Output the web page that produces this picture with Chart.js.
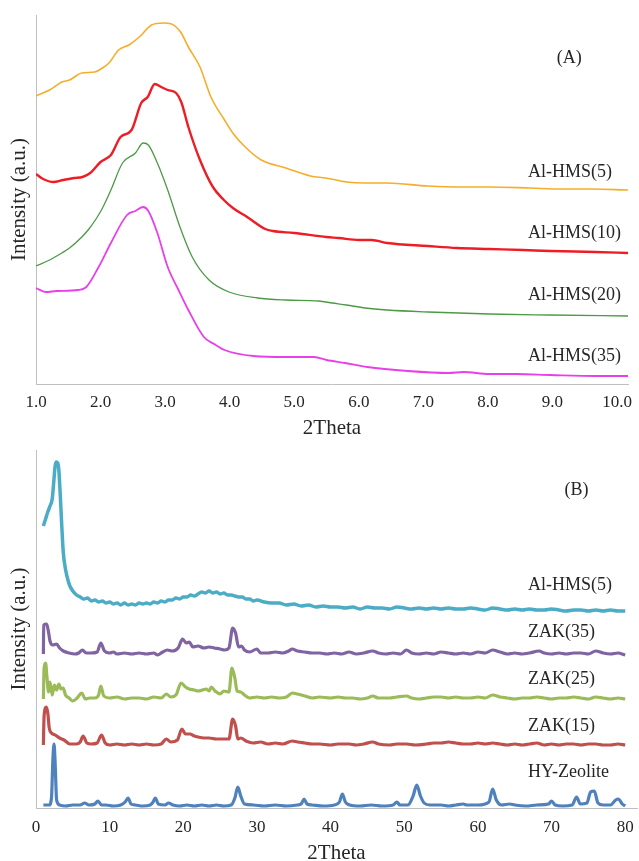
<!DOCTYPE html>
<html>
<head>
<meta charset="utf-8">
<script src="https://cdn.jsdelivr.net/npm/chart.js@4.4.0/dist/chart.umd.min.js"></script>
<style>
  html, body { margin: 0; padding: 0; background: #fff; overflow: hidden; }
  .panel { position: absolute; left: 0; width: 639px; }
  #panelA { top: 0; height: 442px; }
  #panelB { top: 442px; height: 430px; }
</style>
</head>
<body>
<div class="panel" id="panelA"><canvas id="chartA"></canvas></div>
<div class="panel" id="panelB"><canvas id="chartB"></canvas></div>
<script>
// (A) low angle patterns, [2theta, intensity]
var hms5A = [[1.0,288],[1.21,294],[1.40,302],[1.52,304],[1.71,311],[1.91,312],[2.03,316],[2.13,321],[2.28,334],[2.44,339],[2.60,347],[2.79,359],[2.97,361],[3.10,360],[3.17,357],[3.25,351],[3.36,337],[3.54,317],[3.71,287],[3.92,264],[4.06,250],[4.24,237],[4.49,224],[4.87,216],[5.25,208],[5.49,206],[5.81,202],[6.09,201],[6.44,201],[7.07,198],[7.62,197],[8.02,197],[8.65,196],[9.14,195],[9.60,195],[10.17,194]];
var hms10A = [[1.0,210],[1.11,205],[1.27,202],[1.42,204],[1.59,206],[1.72,207],[1.84,211],[2.0,222],[2.16,229],[2.31,247],[2.48,254],[2.63,281],[2.73,287],[2.84,300],[2.94,297],[3.04,294],[3.17,291],[3.25,282],[3.36,257],[3.54,224],[3.74,197],[3.91,184],[4.05,176],[4.27,167],[4.55,155],[4.67,153],[5.0,151],[5.5,147],[5.69,146],[6.0,144],[6.2,144],[6.44,141],[7.07,138],[7.52,136],[8.02,135],[8.54,134],[8.97,133],[9.66,132],[10.17,131]];
var hms20A = [[1.0,118],[1.21,124],[1.40,131],[1.52,136],[1.71,147],[1.82,155],[1.94,166],[2.03,176],[2.16,194],[2.34,221],[2.54,231],[2.66,241],[2.74,239],[2.88,221],[3.04,194],[3.23,157],[3.42,127],[3.68,104],[3.99,92],[4.43,86],[4.87,84],[5.38,83],[5.59,81],[5.81,79],[6.10,76],[6.44,74],[7.07,72],[8.02,70],[8.97,69],[10.17,68]];
var hms35A = [[1.0,96],[1.15,92],[1.32,93],[1.65,94],[1.78,97],[1.97,117],[2.16,141],[2.41,169],[2.54,173],[2.66,177],[2.74,173],[2.88,151],[3.04,117],[3.20,95],[3.36,74],[3.60,47],[3.76,40],[3.92,34],[4.37,28],[4.87,27],[5.31,27],[5.50,24],[5.79,21],[6.13,17],[6.76,13],[7.39,11],[7.62,12],[8.02,10],[8.44,10],[8.97,9],[9.66,8],[10.17,8]];
var namesA = ['Al-HMS(5)', 'Al-HMS(10)', 'Al-HMS(20)', 'Al-HMS(35)'];
var ticksA = [1, 2, 3, 4, 5, 6, 7, 8, 9, 10];

// (B) wide angle patterns
var hms5B = [[1.0,282],[1.3,289],[1.6,296],[1.9,302],[2.2,309],[2.4,325],[2.6,342],[2.75,346],[2.95,345],[3.1,338],[3.3,312],[3.5,282],[3.7,256],[4.0,239],[4.3,229],[4.6,222],[5.0,217],[5.5,213],[6.0,211],[6.5,209],[7,210],[7.5,207],[8,208],[8.5,206],[9,207],[9.5,205],[10,206],[10.5,204],[11,205],[11.5,203],[12,205],[12.5,203],[13,204],[13.5,203],[14,205],[14.5,204],[15,205],[15.5,204],[16,206],[16.5,205],[17,207],[17.5,206],[18,208],[18.5,208],[19,210],[19.5,209],[20,211],[20.5,211],[21,213],[21.5,212],[22,214],[22.5,216],[23,215],[23.5,217],[24,215],[24.5,216],[25,214],[25.5,215],[26,213],[26.5,213],[27,212],[27.5,211],[28,211],[28.5,209],[29,209],[29.5,207],[30,208],[31,206],[32,205],[33,205],[34,203],[35,204],[36,202],[37,203],[38,201],[39,202],[40,201],[41,201],[42,200],[43,201],[44,199],[45,201],[46,200],[47,200],[48,199],[49,201],[50,200],[51,199],[52,200],[53,199],[54,200],[55,199],[56,200],[57,199],[58,199],[59,200],[60,199],[61,198],[62,200],[63,199],[64,198],[65,199],[66,198],[67,199],[68,198],[69,198],[70,199],[71,198],[72,197],[73,198],[74,198],[75,197],[76,198],[77,197],[78,198],[79,197],[80,197]];
var zak35B = [[1.0,154],[1.05,183],[1.45,184],[1.7,176],[1.9,167],[2.3,163],[2.8,164],[3.2,160],[3.7,157],[4.5,155],[5.3,154],[5.8,155],[6.3,158],[6.8,155],[7.5,155],[8.3,156],[8.8,165],[9.3,157],[10,155],[10.5,156],[11,154],[12,155],[13,154],[14,155],[15,154],[16,155],[16.5,153],[17.2,156],[17.8,158],[18.5,157],[19.3,160],[19.9,169],[20.4,165],[20.8,166],[21.3,161],[22,162],[22.8,160],[23.5,161],[24.2,160],[25,159],[25.6,158],[26.2,160],[26.7,180],[27.1,175],[27.5,161],[27.9,162],[28.3,158],[29,156],[30,159],[30.5,155],[31.5,155],[32.5,156],[33.5,155],[34.3,157],[34.8,159],[35.5,157],[36.5,156],[37.5,155],[38.5,155],[39.5,154],[40.5,155],[41.5,154],[42.5,156],[43.5,154],[44.5,155],[45.7,157],[46.5,155],[47.5,154],[48.5,155],[49.5,154],[50.3,158],[51,155],[52,154],[53,155],[54,154],[55,156],[56,155],[57,154],[58,155],[59,154],[60,156],[61,155],[62,158],[63,156],[64,154],[65,155],[66,154],[67,155],[68.3,157],[69,155],[70,154],[71,155],[72,154],[73,155],[74,155],[75,154],[76,157],[77,155],[78,154],[79,155],[80,153]];
var zak25B = [[1.0,109],[1.1,140],[1.3,145],[1.5,130],[1.7,116],[1.9,126],[2.2,113],[2.5,123],[2.8,118],[3.1,124],[3.4,119],[3.7,120],[4.0,113],[4.5,110],[5.0,107],[5.6,110],[6.2,115],[6.7,109],[7.3,110],[8.0,110],[8.5,113],[8.8,122],[9.2,112],[10,110],[11,111],[12,109],[13,110],[14,110],[15,109],[16,111],[17,110],[17.7,114],[18.3,111],[19,113],[19.7,125],[20.3,121],[20.8,119],[21.5,118],[22,117],[22.6,118],[23.1,119],[23.5,117],[23.8,121],[24.3,117],[25,114],[25.5,117],[26.2,116],[26.6,140],[27.0,130],[27.3,117],[27.8,116],[28.3,113],[29,110],[30,111],[31,110],[32,111],[33,110],[34,111],[34.8,115],[35.5,114],[36.5,112],[37.5,110],[38.5,111],[40,110],[41,111],[42,110],[43,110],[44,109],[45,110],[45.7,112],[46.5,110],[48,110],[49,111],[50.3,112],[51,110],[52,109],[53,110],[54,111],[55,111],[56,110],[57,111],[58,110],[59,110],[60,111],[61,110],[62,113],[63,111],[64,110],[65,109],[66,110],[67,110],[68,111],[69,110],[70,109],[71,110],[72,110],[73,111],[74,110],[75,109],[76,111],[77,110],[78,109],[79,110],[80,109]];
var zak15B = [[1.0,63],[1.1,92],[1.4,101],[1.6,95],[1.8,80],[2.1,75],[2.6,73],[3.2,70],[3.8,68],[4.6,64],[5.5,64],[6.0,66],[6.4,72],[6.9,65],[7.5,64],[8.3,65],[8.9,73],[9.4,65],[10,63],[11,64],[12,63],[13,64],[14,63],[15,64],[16,63],[17,64],[17.7,69],[18.3,66],[19.2,68],[19.8,79],[20.3,74],[20.9,74],[21.5,72],[22,71],[22.8,70],[23.5,70],[24.5,69],[25.5,69],[26.2,69],[26.7,89],[27.1,82],[27.4,69],[27.8,70],[28.5,67],[29.5,65],[30.5,66],[31.5,64],[32.5,65],[33.5,64],[34.8,67],[35.5,66],[36.5,65],[37.5,64],[38.5,64],[40,63],[41,64],[42.5,64],[43.5,63],[44.5,64],[45.7,66],[46.5,64],[48,63],[49,64],[50.3,64],[51.5,63],[53,64],[54,65],[55,65],[56,66],[57,65],[58,64],[59,64],[60,65],[61,64],[62,65],[63,64],[64,63],[65,64],[66,63],[67,64],[68,65],[69,63],[70,64],[71,63],[72,64],[73,64],[74,63],[75,64],[76,64],[77,63],[78,63],[79,64],[80,63]];
var hyB = [[1.0,3],[1.8,3],[2.1,10],[2.3,50],[2.45,64],[2.6,45],[2.8,8],[3.2,3],[4,2],[5,3],[6.0,3],[6.6,5],[7.2,3],[8.0,4],[8.4,7],[8.9,3],[9.5,3],[10.5,2],[11.5,3],[12.1,6],[12.5,10],[12.9,4],[13.5,3],[14.5,2],[15.5,3],[15.9,6],[16.2,10],[16.6,4],[17.5,3],[18,5],[18.6,3],[19.5,2],[20.5,3],[21.5,2],[22.5,3],[23.5,2],[24.5,3],[25.5,2],[26.5,3],[27.0,10],[27.4,21],[27.8,12],[28.3,4],[29.5,3],[31,2],[32.5,3],[34,2],[35.5,3],[36.0,4],[36.4,9],[36.8,4],[37.5,3],[39,2],[40.5,3],[41.2,6],[41.6,14],[42.0,6],[42.6,3],[44,2],[45.5,3],[47,2],[48.5,3],[49,6],[49.4,3],[50.5,3],[51.2,12],[51.7,23],[52.2,12],[52.7,5],[53.5,3],[55,3],[56,2],[57,3],[58,4],[58.5,3],[60,3],[61.5,6],[62,19],[62.5,8],[63.2,3],[64.3,4],[65,3],[66.5,2],[68,3],[69.6,4],[70,7],[70.5,3],[71.5,2],[72.8,3],[73.4,11],[73.9,4],[74.8,5],[75.3,16],[75.8,17],[76.3,5],[77,3],[78,3],[78.7,8],[79.1,9],[79.6,4],[80,2]];
var namesB = ['Al-HMS(5)', 'ZAK(35)', 'ZAK(25)', 'ZAK(15)', 'HY-Zeolite'];
var ticksB = [0, 10, 20, 30, 40, 50, 60, 70, 80];

var serif = "'Liberation Serif', 'Times New Roman', serif";
var textColor = '#262626';
var axisColor = '#bfbfbf';

function toPoints(arr) {
  return arr.map(function(p) { return { x: p[0], y: p[1] }; });
}

function makeSet(label, arr, color, width) {
  return {
    label: label,
    data: toPoints(arr),
    borderColor: color,
    borderWidth: width,
    pointRadius: 0,
    fill: false,
    cubicInterpolationMode: 'monotone'
  };
}

var textLabels = {
  id: 'textLabels',
  afterDatasetsDraw: function(chart, args, opts) {
    var ctx = chart.ctx;
    var xs = chart.scales.x;
    var ys = chart.scales.y;
    ctx.save();
    ctx.font = opts.font;
    ctx.fillStyle = textColor;
    ctx.textBaseline = 'middle';
    opts.items.forEach(function(it) {
      ctx.textAlign = it.align || 'left';
      ctx.fillText(it.text, xs.getPixelForValue(it.x), ys.getPixelForValue(it.y));
    });
    ctx.restore();
  }
};

function makeOptions(o) {
  return {
    responsive: true,
    maintainAspectRatio: false,
    animation: false,
    devicePixelRatio: 1,
    layout: { padding: { top: o.padTop, right: o.padRight, left: 0, bottom: 0 } },
    plugins: {
      legend: { display: false },
      tooltip: { enabled: false },
      textLabels: { font: '18px ' + serif, items: o.labels }
    },
    scales: {
      x: {
        type: 'linear',
        min: o.xMin,
        max: o.xMax,
        grid: { display: false },
        border: { display: true, color: axisColor, width: 1 },
        ticks: {
          autoSkip: false,
          maxRotation: 0,
          padding: o.tickPad,
          color: textColor,
          font: { family: serif, size: 17 },
          callback: o.tickFormat
        },
        title: {
          display: true,
          text: '2Theta',
          color: textColor,
          font: { family: serif, size: 21 },
          padding: { top: 0, bottom: o.titlePad }
        },
        afterBuildTicks: function(scale) {
          scale.ticks = o.tickValues.map(function(v) { return { value: v }; });
        },
        afterFit: function(scale) {
          scale.height = o.xHeight;
          scale.paddingLeft = 0;
          scale.paddingRight = 0;
        }
      },
      y: {
        min: 0,
        max: o.yMax,
        grid: { display: false },
        border: { display: true, color: axisColor, width: 1 },
        ticks: { display: false },
        title: {
          display: true,
          text: 'Intensity (a.u.)',
          color: textColor,
          font: { family: serif, size: 21 },
          padding: { top: 7, bottom: 0 }
        },
        afterFit: function(scale) { scale.width = 36; }
      }
    }
  };
}

new Chart(document.getElementById('chartA').getContext('2d'), {
  type: 'line',
  data: {
    datasets: [
      makeSet(namesA[0], hms5A, '#f5ae2a', 1.6),
      makeSet(namesA[1], hms10A, '#ee1c25', 2.4),
      makeSet(namesA[2], hms20A, '#4c9a45', 1.3),
      makeSet(namesA[3], hms35A, '#e840e8', 1.8)
    ]
  },
  options: makeOptions({
    padTop: 15, padRight: 11, xMin: 1, xMax: 10.17, tickValues: ticksA, yMax: 369,
    tickPad: 0, titlePad: 1, xHeight: 58,
    tickFormat: function(v) { return Number(v).toFixed(1); },
    labels: [
      { text: '(A)', x: 9.26, y: 326, align: 'center' },
      { text: namesA[0], x: 8.62, y: 212 },
      { text: namesA[1], x: 8.62, y: 151 },
      { text: namesA[2], x: 8.62, y: 89 },
      { text: namesA[3], x: 8.62, y: 28 }
    ]
  }),
  plugins: [textLabels]
});

new Chart(document.getElementById('chartB').getContext('2d'), {
  type: 'line',
  data: {
    datasets: [
      makeSet(namesB[0], hms5B, '#4bacc6', 3.5),
      makeSet(namesB[1], zak35B, '#8064a2', 3.2),
      makeSet(namesB[2], zak25B, '#9bbb59', 3.2),
      makeSet(namesB[3], zak15B, '#c0504d', 3.2),
      makeSet(namesB[4], hyB, '#4f81bd', 3.2)
    ]
  },
  options: makeOptions({
    padTop: 8, padRight: 2, xMin: 0, xMax: 81.6, tickValues: ticksB, yMax: 358,
    tickPad: 1, titlePad: 6, xHeight: 64,
    tickFormat: function(v) { return v; },
    labels: [
      { text: '(B)', x: 73.4, y: 318, align: 'center' },
      { text: namesB[0], x: 66.8, y: 223 },
      { text: namesB[1], x: 66.8, y: 176 },
      { text: namesB[2], x: 66.8, y: 129 },
      { text: namesB[3], x: 66.8, y: 82 },
      { text: namesB[4], x: 66.8, y: 36 }
    ]
  }),
  plugins: [textLabels]
});
</script>
</body>
</html>
